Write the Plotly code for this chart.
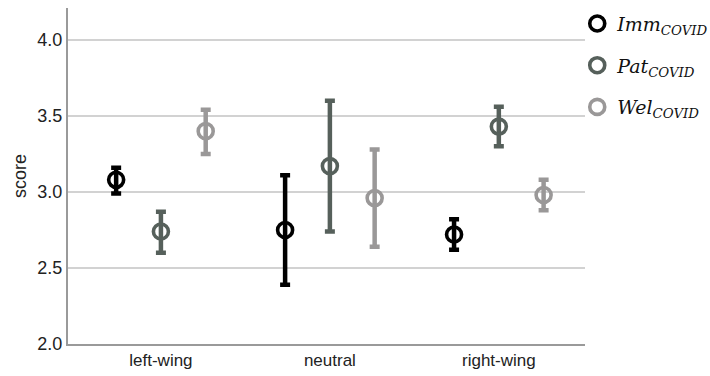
import plotly.graph_objects as go

categories = ["left-wing", "neutral", "right-wing"]
series_names = ["<i>Imm</i><sub><i>COVID</i></sub>", "<i>Pat</i><sub><i>COVID</i></sub>", "<i>Wel</i><sub><i>COVID</i></sub>"]
imm_mean = [3.08, 2.75, 2.72]
imm_upper = [3.16, 3.11, 2.82]
imm_lower = [2.99, 2.39, 2.62]
pat_mean = [2.74, 3.17, 3.43]
pat_upper = [2.87, 3.60, 3.56]
pat_lower = [2.60, 2.74, 3.30]
wel_mean = [3.40, 2.96, 2.98]
wel_upper = [3.54, 3.28, 3.08]
wel_lower = [3.25, 2.64, 2.88]
y_ticks = [2.0, 2.5, 3.0, 3.5, 4.0]

colors = ["#000000", "#56605b", "#9a9898"]
offsets = [-0.265, 0.0, 0.265]

fig = go.Figure()
for k, (name, mean, up, lo, col, off) in enumerate(zip(
    series_names,
    [imm_mean, pat_mean, wel_mean],
    [imm_upper, pat_upper, wel_upper],
    [imm_lower, pat_lower, wel_lower],
    colors, offsets)):
    xs = [i + off for i in range(len(categories))]
    fig.add_trace(go.Scatter(
        x=xs, y=mean, mode="markers", name=name, legendgroup=f"g{k}",
        marker=dict(symbol="circle-open", size=15, color=col, line=dict(width=3.6, color=col)),
        error_y=dict(type="data", symmetric=False,
                     array=[u - m for u, m in zip(up, mean)],
                     arrayminus=[m - l for m, l in zip(mean, lo)],
                     color=col, thickness=4.5, width=5),
    ))

fig.update_layout(
    width=710, height=376,
    margin=dict(l=68, r=125, t=8, b=32, autoexpand=False),
    plot_bgcolor="white", paper_bgcolor="white",
    font=dict(family="Arial, Liberation Sans, sans-serif", color="#222222"),
    legend=dict(x=0.985, y=1.01, xanchor="left", yanchor="top",
                font=dict(family="DejaVu Serif", size=19, color="#111111"),
                itemwidth=30, tracegroupgap=14, bgcolor="rgba(0,0,0,0)"),
    showlegend=True,
)
fig.update_xaxes(
    range=[-0.55, 2.51], tickvals=list(range(len(categories))), ticktext=categories,
    showgrid=False, zeroline=False, showline=True, linecolor="#9a9a9a", linewidth=2,
    ticks="", tickfont=dict(size=17, color="#222222"), fixedrange=True,
)
fig.update_yaxes(
    range=[2.0, 4.21], tickvals=y_ticks, ticktext=[f"{v:.1f}" for v in y_ticks],
    showgrid=True, gridcolor="#d2d2d2", gridwidth=1.5, zeroline=False,
    showline=True, linecolor="#9a9a9a", linewidth=2, ticks="",
    tickfont=dict(size=18, color="#222222"),
    title=dict(text="score", font=dict(size=18, color="#222222"), standoff=6),
)

fig.write_html("out.html", config={"displayModeBar": False},
               post_script="document.body.style.margin='0';document.body.style.overflow='hidden';")
